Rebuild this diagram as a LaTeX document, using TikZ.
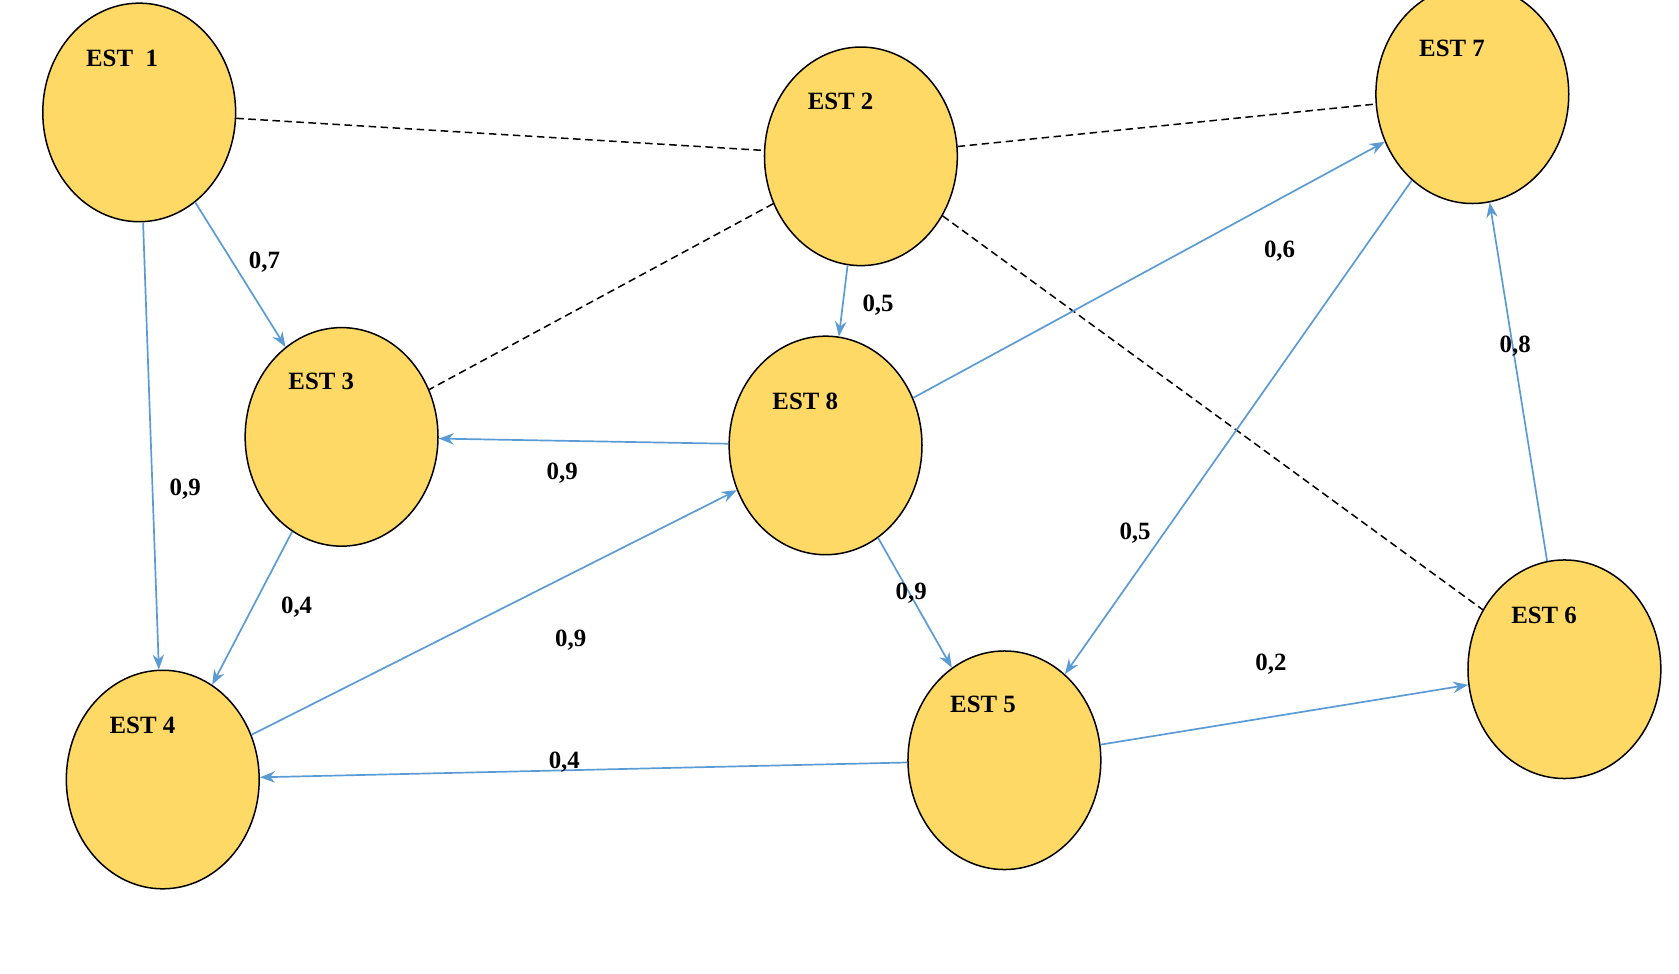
\documentclass[tikz,border=0pt]{standalone}
\usepackage{fontspec}
\setmainfont{Liberation Serif}
\usetikzlibrary{shapes.geometric,arrows.meta}
\begin{document}
\begin{tikzpicture}[x=0.01cm,y=-0.01cm,
  st/.style={ellipse,draw=black,line width=0.4pt,fill=stfill,minimum width=1.8cm,minimum height=2.04cm,inner sep=0pt},
  lb/.style={font=\fontsize{6.6}{8}\selectfont\bfseries,inner sep=0pt},
  ar/.style={draw=arblue,line width=0.45pt,-{Stealth[length=4pt,width=3pt]}},
  dl/.style={draw=black,line width=0.4pt,dashed,dash pattern=on 2pt off 1.2pt}]
\definecolor{stfill}{HTML}{FFD966}
\definecolor{arblue}{HTML}{5B9BD5}
\useasboundingbox (0,0) rectangle (1568,909);
\node[st] (e1) at (130,105) {};
\node[st] (e2) at (804,146) {};
\node[st] (e7) at (1375,88) {};
\node[st] (e3) at (319,408) {};
\node[st] (e8) at (771,416) {};
\node[st] (e4) at (152,728) {};
\node[st] (e5) at (938,710) {};
\node[st] (e6) at (1461,625) {};
\node[lb] (t1) at (114,55) {EST\ \ 1};
\node[lb] (t2) at (785,95) {EST 2};
\node[lb] (t7) at (1356,45) {EST 7};
\node[lb] (t3) at (300,356) {EST 3};
\node[lb] (t8) at (752,375) {EST 8};
\node[lb] (t4) at (133,677) {EST 4};
\node[lb] (t5) at (918,658) {EST 5};
\node[lb] (t6) at (1442,575) {EST 6};
\draw[dl] (e1) -- (e2);
\draw[dl] (e2) -- (e7);
\draw[dl] (e2) -- (e3);
\draw[dl] (e2) -- (e6);
\draw[ar] (e1) -- (e3);
\draw[ar] (e1) -- (e4);
\draw[ar] (e2) -- (e8);
\draw[ar] (e8) -- (e7);
\draw[ar] (e7) -- (e5);
\draw[ar] (e6) -- (e7);
\draw[ar] (e8) -- (e3);
\draw[ar] (e3) -- (e4);
\draw[ar] (e4) -- (e8);
\draw[ar] (e8) -- (e5);
\draw[ar] (e5) -- (e6);
\draw[ar] (e5) -- (e4);
\node[lb] (l1) at (247,245) {0,7};
\node[lb] (l2) at (173,457) {0,9};
\node[lb] (l3) at (820,285) {0,5};
\node[lb] (l4) at (1195,235) {0,6};
\node[lb] (l5) at (1060,498) {0,5};
\node[lb] (l6) at (1415,323) {0,8};
\node[lb] (l7) at (525,442) {0,9};
\node[lb] (l8) at (277,567) {0,4};
\node[lb] (l9) at (533,598) {0,9};
\node[lb] (l10) at (851,554) {0,9};
\node[lb] (l11) at (1187,620) {0,2};
\node[lb] (l12) at (527,712) {0,4};
\end{tikzpicture}
\end{document}
